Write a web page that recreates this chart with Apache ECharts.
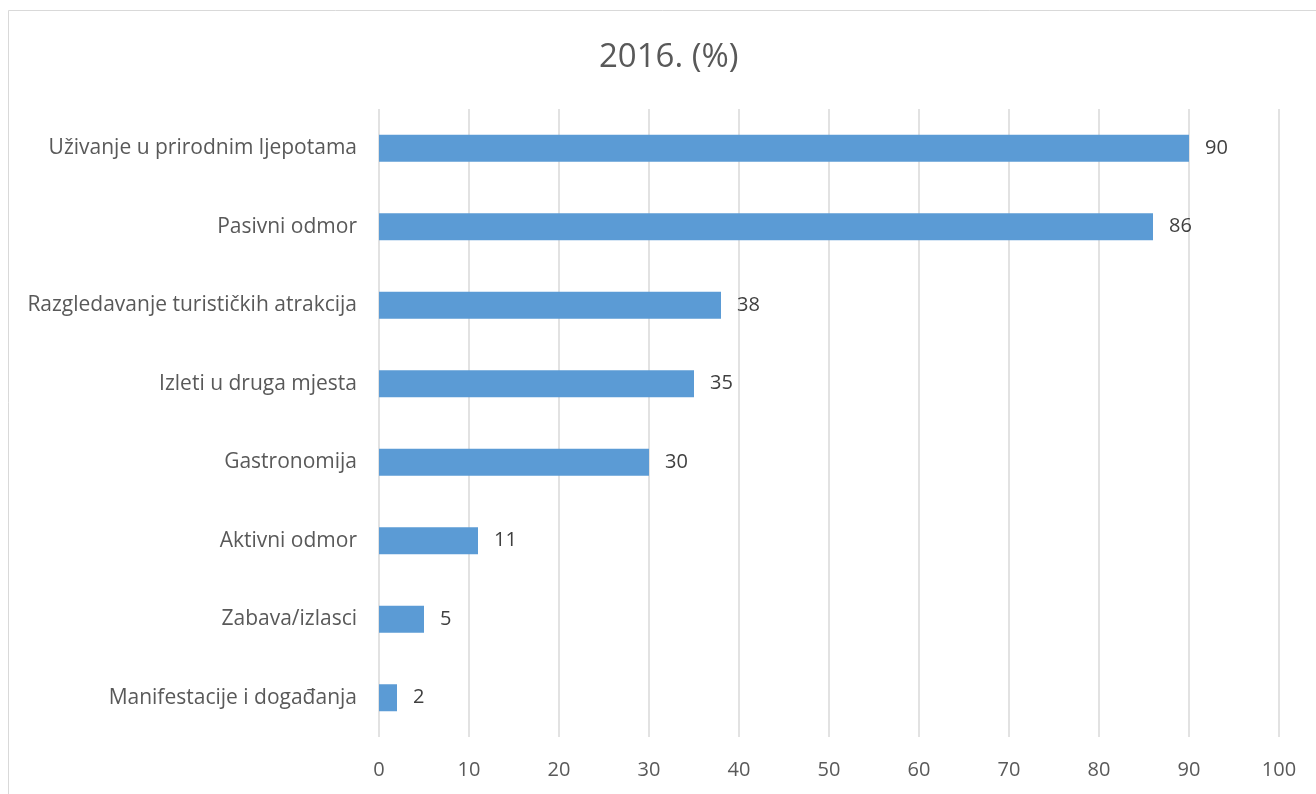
<!DOCTYPE html>
<html><head><meta charset="utf-8">
<script src="https://cdn.jsdelivr.net/npm/echarts@6/dist/echarts.min.js"></script>
<style>html,body{margin:0;padding:0;background:#fff}#c{width:1316px;height:794px}</style>
</head><body><div id="c"></div>
<script>
const categories = ["Manifestacije i događanja","Zabava/izlasci","Aktivni odmor","Gastronomija","Izleti u druga mjesta","Razgledavanje turističkih atrakcija","Pasivni odmor","Uživanje u prirodnim ljepotama"];
const values = [2,5,11,30,35,38,86,90];
const titleText = "2016. (%)";
const chart = echarts.init(document.getElementById('c'));
const font = "'Open Sans', 'Noto Sans', sans-serif";
chart.setOption({
  animation:false,
  backgroundColor:'#fff',
  graphic:[{type:'rect',shape:{x:8.5,y:10.5,width:1400,height:1000},style:{fill:'none',stroke:'#d9d9d9',lineWidth:1},silent:true}],
  title:{text:titleText,left:594,top:36,textStyle:{fontFamily:font,fontSize:33,fontWeight:'normal',color:'#595959'}},
  grid:{left:379,right:37,top:109,bottom:57,containLabel:false},
  xAxis:{type:'value',min:0,max:100,interval:10,
    axisLine:{show:false},axisTick:{show:false},
    splitLine:{lineStyle:{color:'#d9d9d9',width:1.5}},
    axisLabel:{margin:23,color:'#595959',fontSize:20,fontFamily:font}},
  yAxis:{type:'category',data:categories,
    axisLine:{show:false},axisTick:{show:false},
    axisLabel:{margin:22,color:'#595959',fontSize:21,fontFamily:font,padding:[3,0,0,0]}},
  series:[{type:'bar',data:values,barWidth:27,itemStyle:{color:'#5b9bd5'},
    label:{show:true,position:'right',distance:16,color:'#404040',fontSize:20,fontFamily:font,padding:[2,0,0,0]}}]
});
</script></body></html>
